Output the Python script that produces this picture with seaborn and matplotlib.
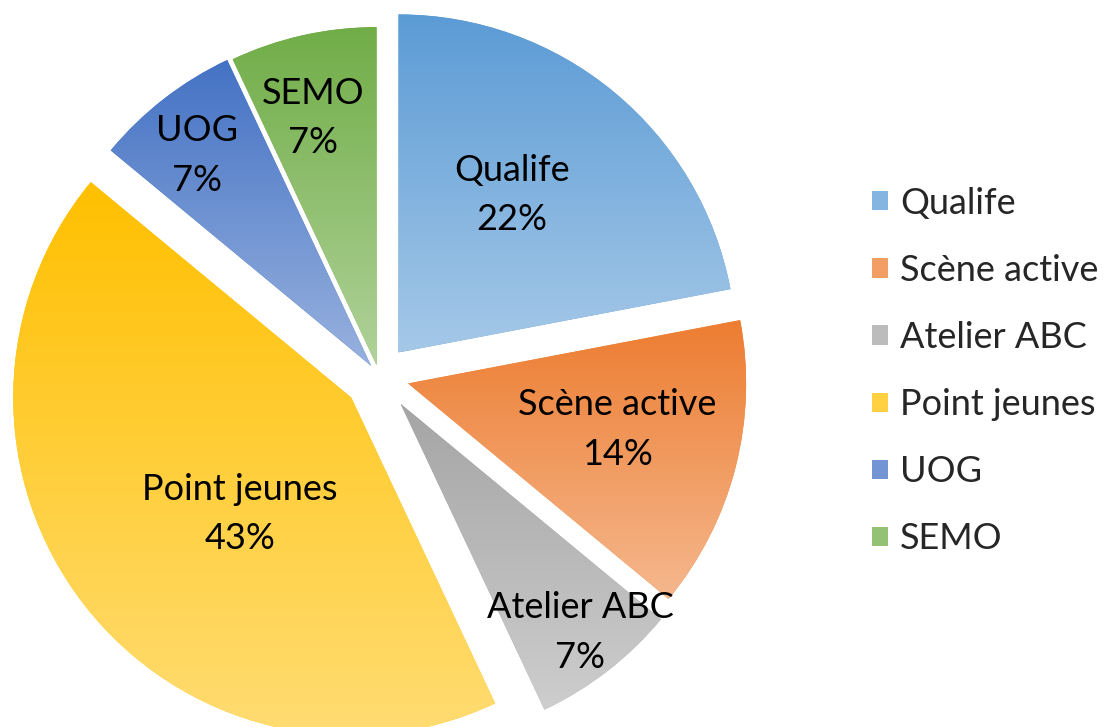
import numpy as np
import pandas as pd
import matplotlib
matplotlib.use("Agg")
import matplotlib.pyplot as plt
import seaborn as sns
from matplotlib.colors import to_rgb
from matplotlib.patches import Patch

# ---- data ----
categories = ["Qualife", "Scène active", "Atelier ABC", "Point jeunes", "UOG", "SEMO"]
shares = [22, 14, 7, 43, 7, 7]
pct_labels = ["22%", "14%", "7%", "43%", "7%", "7%"]
base_colors = ["#5B9BD5", "#ED7D31", "#A5A5A5", "#FFC000", "#4472C4", "#70AD47"]

# ---- style / placement ----
explode = [0.0905, 0.089, 0.104, 0.104, 0.038, 0.033]
label_radius = [0.574, 0.633, 0.86, 0.477, 0.808, 0.755]
label_nudge = [3.8, 1.9, 0.4, 8.5, 1.8, 1.8]

df = pd.DataFrame({"category": categories, "share": shares, "pct": pct_labels,
                   "color": base_colors})

sns.set_theme(style="white")
plt.rcParams['font.family'] = ['Lato', 'DejaVu Sans']

W, H = 1119, 727
R = 338.0           # pie radius in pixels
CX, CY = 379, 376   # pie centre in pixels (from top-left)
FS = 26

fig = plt.figure(figsize=(W / 100, H / 100), dpi=100)
fig.patch.set_facecolor("white")
ax = fig.add_axes([0, 0, 1, 1])

wedges, _ = ax.pie(df["share"], startangle=90, counterclock=False, radius=1,
                   explode=explode, colors=df["color"],
                   wedgeprops=dict(linewidth=0, antialiased=True))


def lighten(c, f):
    r = np.array(to_rgb(c))
    return r + (1 - r) * f


# gradient fills (base colour at top, lighter tint at bottom), clipped to each wedge
for w, c in zip(wedges, df["color"]):
    bb = w.get_path().get_extents(w.get_patch_transform())
    top = lighten(c, 0.0)
    bot = lighten(c, 0.45)
    t = np.linspace(0, 1, 256)[:, None]
    grad = (top[None, :] * (1 - t) + bot[None, :] * t)[:, None, :]
    im = ax.imshow(grad, extent=(bb.x0, bb.x1, bb.y0, bb.y1), origin="upper",
                   aspect="auto", interpolation="bilinear", zorder=2)
    im.set_clip_path(w)

# data labels
for w, name, pct, f, nd in zip(wedges, df["category"], df["pct"], label_radius, label_nudge):
    mid = np.deg2rad((w.theta1 + w.theta2) / 2 + nd)
    x = w.center[0] + f * w.r * np.cos(mid)
    y = w.center[1] + f * w.r * np.sin(mid)
    ax.text(x, y, f"{name}\n{pct}", ha="center", va="center", fontsize=FS,
            color="#000000", linespacing=1.62, zorder=5)

ax.set_xlim(-CX / R, (W - CX) / R)
ax.set_ylim(-(H - CY) / R, CY / R)
ax.set_aspect("equal")
ax.axis("off")

handles = [Patch(facecolor=lighten(c, 0.25), edgecolor="none", label=n)
           for n, c in zip(df["category"], df["color"])]
fig.legend(handles=handles, loc="center left",
           bbox_to_anchor=(872 / W, (H - 371) / H), bbox_transform=fig.transFigure,
           frameon=False, fontsize=FS, handlelength=0.443, handleheight=0.443,
           handletextpad=0.33, labelspacing=0.945, borderpad=0, borderaxespad=0)

fig.savefig("out.png", dpi=100, facecolor="white")
